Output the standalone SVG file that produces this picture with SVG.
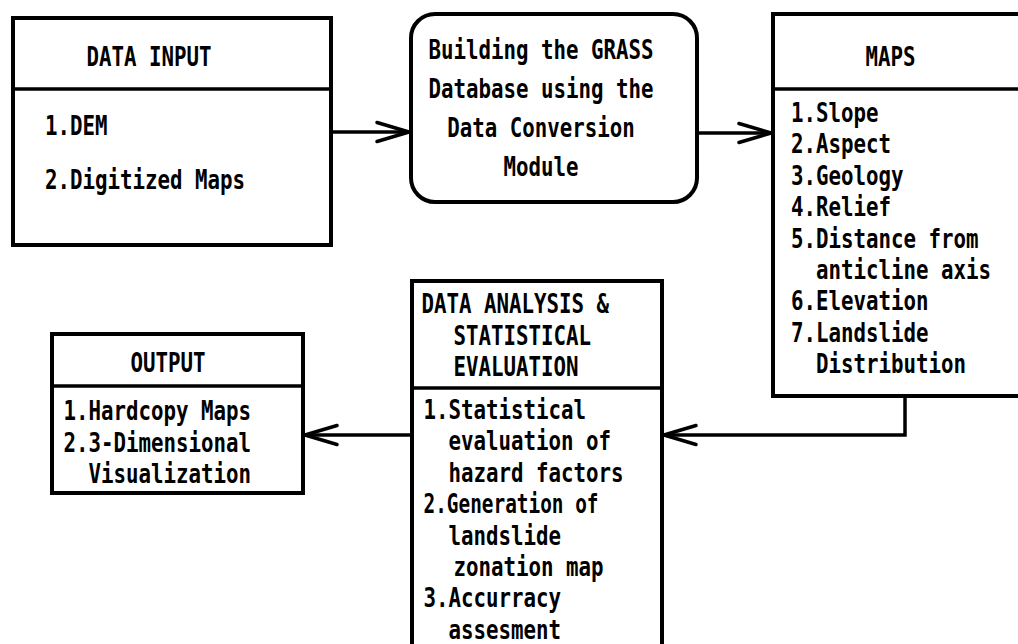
<svg xmlns="http://www.w3.org/2000/svg" width="1018" height="644" viewBox="0 0 1018 644">
<style>
.box{fill:#fff;stroke:#000;stroke-width:4}
.div{stroke:#000;stroke-width:3.5}
.t{font-family:"DejaVu Sans Mono","Liberation Mono",monospace;font-size:26px;font-weight:bold;fill:#000}
.con{fill:none;stroke:#000;stroke-width:3.5;marker-end:url(#arr)}
</style>
<defs>
<marker id="arr" viewBox="-40 -16 46 32" markerWidth="46" markerHeight="32" refX="0" refY="0" orient="auto" markerUnits="userSpaceOnUse">
<path d="M-32,-9.5 L0,0 L-32,9.5" fill="none" stroke="#000" stroke-width="3.5" stroke-linecap="round" stroke-linejoin="round"/>
</marker>
</defs>
<rect width="1018" height="644" fill="#fff"/>
<g id="data-input">
<rect class="box" x="13" y="18" width="318" height="227"/>
<line class="div" x1="13" y1="89" x2="331" y2="89"/>
<text class="t" x="86.5" y="66" textLength="125" lengthAdjust="spacingAndGlyphs">DATA INPUT</text>
<text class="t" x="45" y="135" textLength="62.5" lengthAdjust="spacingAndGlyphs">1.DEM</text>
<text class="t" x="45" y="189" textLength="200" lengthAdjust="spacingAndGlyphs">2.Digitized Maps</text>
</g>
<g id="grass-db">
<rect class="box" x="411" y="14" width="286" height="188" rx="24" ry="24"/>
<text class="t" x="428.5" y="58.5" textLength="225" lengthAdjust="spacingAndGlyphs">Building the GRASS</text>
<text class="t" x="428.5" y="97.5" textLength="225" lengthAdjust="spacingAndGlyphs">Database using the</text>
<text class="t" x="447.25" y="136.5" textLength="187.5" lengthAdjust="spacingAndGlyphs">Data Conversion</text>
<text class="t" x="503.5" y="175.5" textLength="75" lengthAdjust="spacingAndGlyphs">Module</text>
</g>
<g id="maps">
<rect class="box" x="773" y="14" width="300" height="382"/>
<line class="div" x1="773" y1="89" x2="1020" y2="89"/>
<text class="t" x="865.5" y="66" textLength="50" lengthAdjust="spacingAndGlyphs">MAPS</text>
<text class="t" x="791" y="122" textLength="87.5" lengthAdjust="spacingAndGlyphs">1.Slope</text>
<text class="t" x="791" y="153.4" textLength="100" lengthAdjust="spacingAndGlyphs">2.Aspect</text>
<text class="t" x="791" y="184.8" textLength="112.5" lengthAdjust="spacingAndGlyphs">3.Geology</text>
<text class="t" x="791" y="216.2" textLength="100" lengthAdjust="spacingAndGlyphs">4.Relief</text>
<text class="t" x="791" y="247.6" textLength="187.5" lengthAdjust="spacingAndGlyphs">5.Distance from</text>
<text class="t" x="816" y="279" textLength="175" lengthAdjust="spacingAndGlyphs">anticline axis</text>
<text class="t" x="791" y="310.4" textLength="137.5" lengthAdjust="spacingAndGlyphs">6.Elevation</text>
<text class="t" x="791" y="341.8" textLength="137.5" lengthAdjust="spacingAndGlyphs">7.Landslide</text>
<text class="t" x="816" y="373.2" textLength="150" lengthAdjust="spacingAndGlyphs">Distribution</text>
</g>
<g id="analysis">
<rect class="box" x="412" y="281" width="250" height="400"/>
<line class="div" x1="412" y1="388" x2="662" y2="388"/>
<text class="t" x="421.5" y="313" textLength="187.5" lengthAdjust="spacingAndGlyphs">DATA ANALYSIS &amp;</text>
<text class="t" x="453.5" y="344.5" textLength="137.5" lengthAdjust="spacingAndGlyphs">STATISTICAL</text>
<text class="t" x="453.5" y="376" textLength="125" lengthAdjust="spacingAndGlyphs">EVALUATION</text>
<text class="t" x="423.5" y="419" textLength="162.5" lengthAdjust="spacingAndGlyphs">1.Statistical</text>
<text class="t" x="448.5" y="450.4" textLength="162.5" lengthAdjust="spacingAndGlyphs">evaluation of</text>
<text class="t" x="448.5" y="481.8" textLength="175" lengthAdjust="spacingAndGlyphs">hazard factors</text>
<text class="t" x="423.5" y="513.2" textLength="175" lengthAdjust="spacingAndGlyphs">2.Generation of</text>
<text class="t" x="448.5" y="544.6" textLength="112.5" lengthAdjust="spacingAndGlyphs">landslide</text>
<text class="t" x="453.5" y="576" textLength="150" lengthAdjust="spacingAndGlyphs">zonation map</text>
<text class="t" x="423.5" y="607.4" textLength="137.5" lengthAdjust="spacingAndGlyphs">3.Accurracy</text>
<text class="t" x="448.5" y="638.8" textLength="112.5" lengthAdjust="spacingAndGlyphs">assesment</text>
</g>
<g id="output">
<rect class="box" x="52" y="334" width="251" height="159"/>
<line class="div" x1="52" y1="386" x2="303" y2="386"/>
<text class="t" x="130.5" y="372" textLength="75" lengthAdjust="spacingAndGlyphs">OUTPUT</text>
<text class="t" x="63.5" y="420" textLength="187.5" lengthAdjust="spacingAndGlyphs">1.Hardcopy Maps</text>
<text class="t" x="63.5" y="451.5" textLength="187.5" lengthAdjust="spacingAndGlyphs">2.3-Dimensional</text>
<text class="t" x="88.5" y="482.5" textLength="162.5" lengthAdjust="spacingAndGlyphs">Visualization</text>
</g>
<g id="connectors">
<path class="con" d="M331,132 H409"/>
<path class="con" d="M697,133 H771"/>
<path class="con" d="M905,396 V435 H664"/>
<path class="con" d="M412,435 H305"/>
</g>
</svg>
